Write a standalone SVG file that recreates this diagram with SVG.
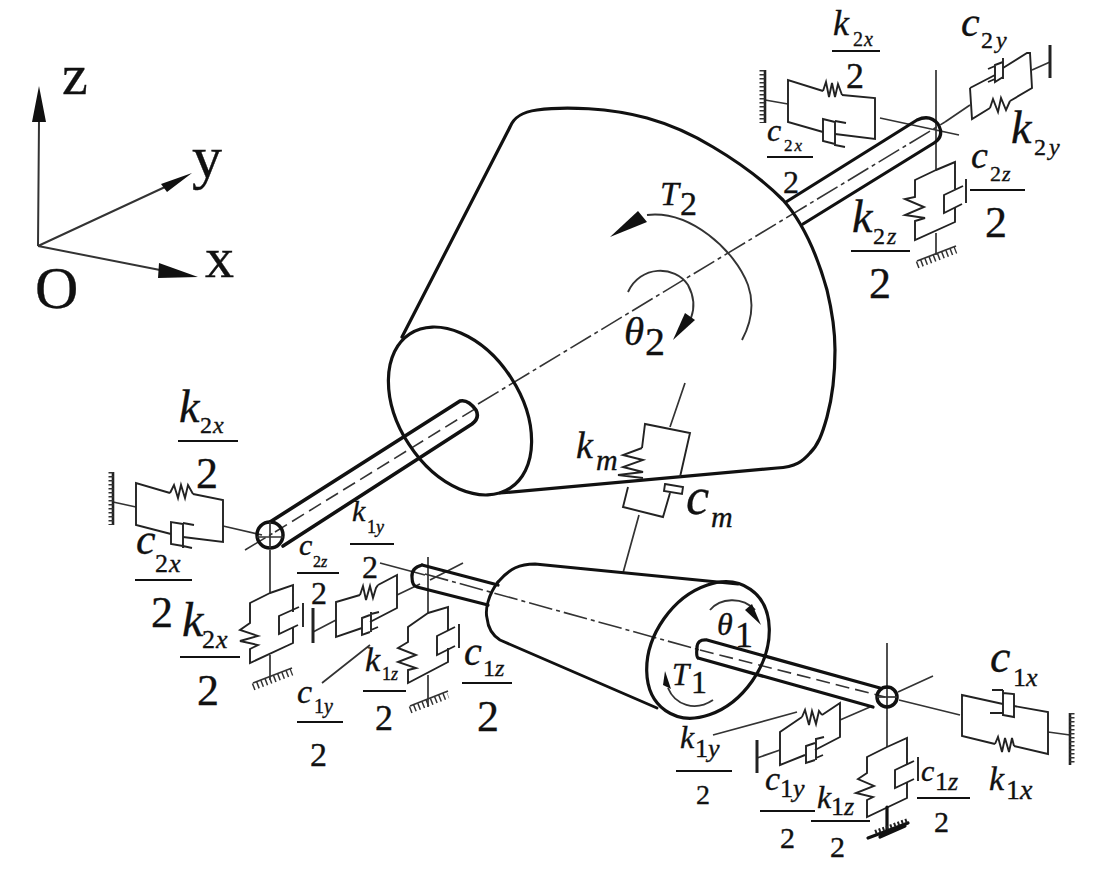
<svg xmlns="http://www.w3.org/2000/svg" width="1098" height="871" viewBox="0 0 1098 871">
<style>
text{font-family:"Liberation Serif","Times New Roman",serif;fill:#111;stroke:#111;stroke-width:.35}
.i{font-style:italic}
.b{fill:none;stroke:#111;stroke-width:3.2;stroke-linejoin:round;stroke-linecap:round}
.m{fill:none;stroke:#222;stroke-width:1.9;stroke-linejoin:miter}
.t{fill:none;stroke:#333;stroke-width:1.7}
.c{fill:none;stroke:#333;stroke-width:1.6;stroke-dasharray:24 4 4 4}
.d{fill:none;stroke:#333;stroke-width:1.6;stroke-dasharray:14 6}
.f{stroke:#111;stroke-width:1.8}
.a{fill:#111;stroke:none}
.h{fill:none;stroke:#333;stroke-width:5;stroke-dasharray:1.5 2.5}
.g{fill:none;stroke:#333;stroke-width:7;stroke-dasharray:1.5 3}
</style>
<rect width="1098" height="871" fill="#fff"/>

<g id="connectors">
  <path class="c" d="M245,550L275,532M478,404L945,122"/>
  <path class="t" d="M945,122L970,105"/>
  <path class="d" d="M275,532L478,407"/>
  <path class="c" d="M425,574L700,650"/>
  <path class="d" d="M700,650L885,697"/>
  <path class="t" d="M685,383L670,427M639,515L623,573"/>
  <path class="t" d="M936,70V170M880,118L959,135M765,100L788,104M1032,70L1050,62M936,233V255"/>
  <path class="t" d="M113,502L136,507M223,526L262,535M270,550V593M270,655V680"/>
  <path class="t" d="M380,563L425,575M428,557V613M430,580L463,563M397,595L420,584M313,632L336,620M428,675V707"/>
  <path class="t" d="M887,643V747M898,692L933,676M899,700L960,715M840,720L870,707M1048,732L1070,735M757,758L780,750"/>
  <path class="t" d="M713,735L797,712M370,645L322,683"/>
</g>

<g id="axes">
  <path class="t" style="stroke-width:2" d="M38,246L39,120M38,246L165,187M38,246L160,270"/>
  <path class="a" d="M39,86L46,122H32ZM192,173L167,192L161,184ZM198,277L158,278L159,263Z"/>
  <text x="62" y="94" font-size="58">z</text>
  <text x="192" y="177" font-size="60">y</text>
  <text x="205" y="277" font-size="58">x</text>
  <text x="35" y="308" font-size="60">O</text>
</g>

<g id="gear2">
  <path class="b" d="M402,337L510,127C514,117 522,112 537,110C565,106 610,108 647,118C672,125 695,136 713,147C740,163 765,182 783,200C808,228 820,265 827,290C833,315 835,335 835,350C835,375 833,395 827,417C822,435 818,445 810,453C803,461 796,467 777,468L500,493"/>
  <ellipse class="b" cx="460" cy="411" rx="61" ry="92" transform="rotate(-33 460 411)"/>
  <path class="b" d="M786,202L917,120Q930,114 938,124Q945,136 934,143L803,224"/>
  <path class="b" style="stroke-width:3.6" d="M270,522L460,401Q468,399 476,410Q480,418 472,424L283,546"/>
  <circle class="b" style="stroke-width:3.5" cx="270" cy="535" r="13"/>
  <path class="t" d="M270,522V548M257,537H283"/>
  <path class="t" style="stroke-width:1.9" d="M647,215C690,210 735,250 748,285C755,305 750,325 742,340"/>
  <path class="a" d="M610,237L638,211L647,222Z"/>
  <path class="t" style="stroke-width:1.9" d="M628,292C640,265 675,265 688,285C695,298 694,310 691,318"/>
  <path class="a" d="M673,340L685,313L695,320Z"/>
</g>

<g id="gear1">
  <path class="b" style="stroke-width:2.9" d="M498,582C510,568 520,564 535,564L738,584"/>
  <path class="b" style="stroke-width:2.9" d="M498,582C488,595 485,610 487,618C488,628 492,635 500,640L657,708"/>
  <ellipse class="b" cx="708" cy="650" rx="54" ry="74" transform="rotate(35 708 650)"/>
  <path class="b" d="M422,565L498,585M417,587L488,605M422,565Q411,568 412,577Q412,586 417,587"/>
  <path class="b" d="M707,640L880,688M698,658L873,707M707,640Q697,639 697,648Q696,656 698,658"/>
  <circle class="b" style="stroke-width:3.5" cx="887" cy="697" r="10"/>
  <path class="t" d="M877,697H897"/>
  <path class="t" style="stroke-width:1.9" d="M710,610C720,598 742,596 755,610"/>
  <path class="a" d="M761,625L745,610L752,604Z"/>
  <path class="t" style="stroke-width:1.9" d="M668,688C675,705 695,712 713,700"/>
  <path class="a" d="M665,671L663,685L671,689Z"/>
</g>

<g id="mesh-spring">
  <path class="m" d="M642,448L645,424L690,433L680,477M670,493L663,517L623,507L628,487"/>
  <path class="m" d="M642,448L623,455L643,460L623,467L643,472L618,475L643,478"/>
  <path class="m" d="M665,484L683,487L682,494L664,491Z"/>
</g>

<g id="support-k2x-top">
  <path class="m" d="M823,91L788,80V122L823,132M835,134L875,139V98L842,95"/>
  <path class="m" d="M823,91L826,82L829,97L832,83L835,97L838,84L842,95"/>
  <path class="m" d="M835,122L823,119V141L835,144M835,121V146M835,121L846,123M835,145L845,147"/>
  <path class="m" style="stroke-width:2.6" d="M765,70V123"/>
  <path class="h" d="M762,70V123"/>
</g>
<g id="support-k2y">
  <path class="m" d="M970,88L995,75M1003,68L1027,53L1030,53L1032,88L1010,101M990,108L972,119L970,88"/>
  <path class="m" d="M990,108L993,99L998,112L1001,98L1006,110L1010,101"/>
  <path class="m" d="M1003,62L995,65V82L1003,77M1003,58V79M988,69L995,66M988,82L995,79"/>
  <path class="m" style="stroke-width:3" d="M1050,45V78"/>
</g>
<g id="support-k2z">
  <path class="m" d="M936,170L915,180V197L905,199L924,207L905,215L925,218L915,221V240L955,222V208M955,189V162L936,170"/>
  <path class="m" d="M963,186L944,195V213L962,204M966,179V203"/>
  <path class="t" d="M917,261L956,246"/>
  <path class="g" d="M917,265L956,250"/>
</g>

<g id="support-k2x-left">
  <path class="m" d="M170,493L136,483V525L171,534M183,537L223,542V500L193,494"/>
  <path class="m" d="M170,493L174,485L178,498L181,485L185,498L188,485L193,494"/>
  <path class="m" d="M183,524L171,522V544L183,546M183,523V548M183,523L194,525M183,546L192,548"/>
  <path class="m" style="stroke-width:2.6" d="M113,472V525"/>
  <path class="h" d="M111,472V525"/>
</g>
<g id="support-k2x-low">
  <path class="m" d="M270,593L250,603V623L240,630L258,636L240,641L258,645L250,649V663L293,643V627M293,612V585L270,593"/>
  <path class="m" d="M299,607L279,616V634L298,625M303,603V627"/>
  <path class="t" d="M253,683L292,668"/>
  <path class="g" d="M253,687L292,672"/>
</g>
<g id="support-k1y-left">
  <path class="m" d="M360,595L336,602V637L362,628M370,622L397,608V575L378,585"/>
  <path class="m" d="M360,595L363,586L366,600L370,586L373,598L376,588L378,585"/>
  <path class="m" d="M370,615L362,618V635L370,632M371,612V632M371,614L379,612M371,630L378,627"/>
  <path class="m" style="stroke-width:3" d="M313,608V643"/>
</g>
<g id="support-k1z-left">
  <path class="m" d="M428,613L408,627V642L398,648L416,655L398,662L416,668L408,670V683L448,662V648M448,630V607L428,613"/>
  <path class="m" d="M455,627L437,636V655L455,646M459,624V648"/>
  <path class="t" d="M410,706L448,691"/>
  <path class="g" d="M410,710L448,695"/>
</g>

<g id="support-k1x">
  <path class="m" d="M1003,704L962,695V736L995,744M1014,706L1048,712V754L1014,746"/>
  <path class="m" d="M995,744L998,737L1002,752L1005,738L1009,752L1012,738L1014,746"/>
  <path class="m" d="M1003,693L1014,694V717L1003,715M1003,690V716M992,690H1003M990,713H1003"/>
  <path class="m" style="stroke-width:2.6" d="M1070,713V765"/>
  <path class="h" d="M1072,713V765"/>
</g>
<g id="support-k1y-right">
  <path class="m" d="M802,717L780,732V765L805,755M815,750L840,737V703L822,715"/>
  <path class="m" d="M802,717L805,710L809,725L812,711L816,724L819,711L822,715"/>
  <path class="m" d="M815,743L806,746V763L815,760M816,738V760M816,739L824,737M816,758L823,755"/>
  <path class="m" style="stroke-width:3" d="M757,740V773"/>
</g>
<g id="support-k1z-right">
  <path class="m" d="M887,747L867,757V773L858,779L874,786L856,793L873,797L867,800V817L907,798V782M907,765V738L887,747"/>
  <path class="m" d="M914,761L895,770V788L914,779M918,757V781"/>
  <path class="b" d="M887,807V830"/>
  <path class="b" d="M868,838L908,823M880,837L905,826"/>
  <path class="m" style="stroke-width:4;stroke-dasharray:2 2" d="M875,832L908,820"/>
</g>

<g id="labels">
  <path class="f" d="M832,51H880M767,157H813M970,190H1025M851,251H910M178,441H238M135,580H192M180,657H240M297,573H339M350,544H394M297,722H343M363,691H406M462,683H512M676,771H732M760,811H815M811,821H870M917,798H970"/>
  <text class="i" x="833" y="35" font-size="36">k</text><text x="853" y="46" font-size="20">2<tspan class="i" dx="1">x</tspan></text><text x="846" y="88" font-size="36">2</text>
  <text class="i" x="961" y="36" font-size="42">c</text><text x="981" y="48" font-size="24">2<tspan class="i" dx="3">y</tspan></text>
  <text class="i" x="1011" y="143" font-size="46">k</text><text x="1034" y="155" font-size="24">2<tspan class="i" dx="3">y</tspan></text>
  <text class="i" x="767" y="141" font-size="32">c</text><text x="784" y="151" font-size="17">2<tspan class="i" dx="2">x</tspan></text><text x="783" y="193" font-size="32">2</text>
  <text class="i" x="971" y="168" font-size="38">c</text><text x="990" y="181" font-size="22">2<tspan class="i" dx="1">z</tspan></text><text x="985" y="237" font-size="44">2</text>
  <text class="i" x="852" y="232" font-size="46">k</text><text x="873" y="244" font-size="24">2<tspan class="i" dx="2">z</tspan></text><text x="869" y="298" font-size="44">2</text>
  <text class="i" x="660" y="205" font-size="34">T</text><text x="680" y="215" font-size="34">2</text>
  <text class="i" x="624" y="345" font-size="41">θ</text><text x="645" y="355" font-size="40">2</text>
  <text class="i" x="179" y="422" font-size="46">k</text><text x="200" y="433" font-size="24">2<tspan class="i" dx="1">x</tspan></text><text x="196" y="488" font-size="44">2</text>
  <text class="i" x="136" y="554" font-size="44">c</text><text x="155" y="572" font-size="26">2<tspan class="i" dx="1">x</tspan></text><text x="151" y="627" font-size="44">2</text>
  <text class="i" x="182" y="636" font-size="48">k</text><text x="202" y="648" font-size="26">2<tspan class="i" dx="1">x</tspan></text><text x="197" y="705" font-size="44">2</text>
  <text class="i" x="299" y="555" font-size="30">c</text><text x="313" y="567" font-size="16">2<tspan class="i">z</tspan></text><text x="311" y="604" font-size="32">2</text>
  <text class="i" x="352" y="521" font-size="30">k</text><text x="367" y="533" font-size="18">1<tspan class="i">y</tspan></text><text x="362" y="578" font-size="32">2</text>
  <text class="i" x="297" y="703" font-size="34">c</text><text x="314" y="713" font-size="20">1<tspan class="i">y</tspan></text><text x="310" y="766" font-size="34">2</text>
  <text class="i" x="365" y="671" font-size="34">k</text><text x="382" y="680" font-size="18">1<tspan class="i">z</tspan></text><text x="375" y="730" font-size="36">2</text>
  <text class="i" x="464" y="665" font-size="40">c</text><text x="483" y="676" font-size="24">1<tspan class="i">z</tspan></text><text x="477" y="731" font-size="44">2</text>
  <text class="i" x="576" y="458" font-size="38">k</text><text class="i" x="596" y="470" font-size="30">m</text>
  <text class="i" x="686" y="514" font-size="52">c</text><text class="i" x="711" y="527" font-size="30">m</text>
  <text class="i" x="717" y="635" font-size="32">θ</text><text x="735" y="647" font-size="36">1</text>
  <text class="i" x="672" y="685" font-size="31">T</text><text x="691" y="693" font-size="32">1</text>
  <text class="i" x="680" y="748" font-size="32">k</text><text x="695" y="757" font-size="26">1<tspan class="i">y</tspan></text><text x="696" y="804" font-size="28">2</text>
  <text class="i" x="765" y="790" font-size="34">c</text><text x="780" y="797" font-size="26">1<tspan class="i">y</tspan></text><text x="780" y="848" font-size="30">2</text>
  <text class="i" x="817" y="808" font-size="32">k</text><text x="831" y="815" font-size="26">1<tspan class="i">z</tspan></text><text x="830" y="857" font-size="30">2</text>
  <text class="i" x="921" y="781" font-size="30">c</text><text x="935" y="790" font-size="26">1<tspan class="i">z</tspan></text><text x="934" y="832" font-size="30">2</text>
  <text class="i" x="989" y="790" font-size="34">k</text><text x="1006" y="799" font-size="28">1<tspan class="i">x</tspan></text>
  <text class="i" x="990" y="672" font-size="46">c</text><text x="1013" y="686" font-size="26">1<tspan class="i">x</tspan></text>
</g>
</svg>
